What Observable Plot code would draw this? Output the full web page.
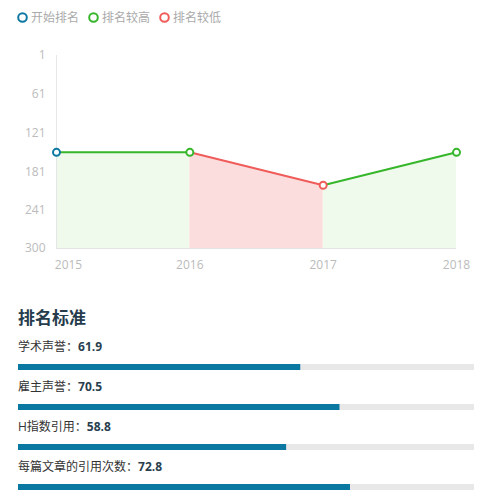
<!DOCTYPE html>
<html>
<head>
<meta charset="utf-8">
<script src="https://cdn.jsdelivr.net/npm/d3@7"></script>
<script src="https://cdn.jsdelivr.net/npm/@observablehq/plot@0.6"></script>
<style>
  body { margin: 0; background: #fff; font-family: "Open Sans", "Noto Sans CJK SC", sans-serif; width: 482px; overflow: hidden; }
  #legend { height: 34px; display: flex; align-items: center; padding-left: 17px; font-size: 12px; color: #aaa; }
  .lg { display: flex; align-items: center; margin-right: 9px; }
  .lg svg { margin-right: 3px; }
  #chart svg { display: block; }
  #crit { padding: 0 8px 0 18px; margin-top: 22px; }
  #crit h2 { margin: 0 0 1px 0; font-size: 17px; line-height: 24px; font-weight: bold; color: #263c4c; }
  .row-label { font-size: 12px; line-height: 20px; height: 20px; color: #333; margin-top: 7px; }
  .row-label b { color: #2a3f50; }
  .bar { margin-top: 7px; height: 6px; }
  .bar svg { display: block; }
</style>
</head>
<body>
<div id="legend"></div>
<div id="chart"></div>
<div id="crit"><h2>排名标准</h2></div>
<script>
const years = [2015, 2016, 2017, 2018];
const ranks = [151, 151, 202, 151];
const yTicks = [1, 61, 121, 181, 241, 300];
const legendLabels = ["开始排名", "排名较高", "排名较低"];
const legendColors = ["#0e78a2", "#36b62a", "#ef5c5a"];
const criteria = ["学术声誉", "雇主声誉", "H指数引用", "每篇文章的引用次数"];
const scores = [61.9, 70.5, 58.8, 72.8];

const yMin = yTicks[0], yMax = yTicks[yTicks.length - 1];
const [cStart, cUp, cDown] = legendColors;
const areaUp = "#eff9ec", areaDown = "#fbdddd";

// legend
const lg = document.getElementById("legend");
legendLabels.forEach((t, i) => {
  const d = document.createElement("div");
  d.className = "lg";
  d.innerHTML = `<svg width="11" height="11"><circle cx="5.5" cy="5.5" r="4.3" fill="white" stroke="${legendColors[i]}" stroke-width="2"/></svg><span>${t}</span>`;
  lg.appendChild(d);
});

// segments
const segRows = [];
for (let i = 1; i < years.length; i++) {
  const status = ranks[i] <= ranks[i - 1] ? "up" : "down";
  segRows.push({seg: i, year: years[i - 1], rank: ranks[i - 1], status});
  segRows.push({seg: i, year: years[i], rank: ranks[i], status});
}
const pts = years.map((y, i) => ({
  year: y, rank: ranks[i],
  color: i === 0 ? cStart : (ranks[i] <= ranks[i - 1] ? cUp : cDown)
}));
const up = segRows.filter(d => d.status === "up");
const down = segRows.filter(d => d.status === "down");

const chart = Plot.plot({
  width: 482, height: 250,
  marginTop: 21, marginBottom: 36, marginLeft: 56, marginRight: 26,
  style: {fontSize: "12px", fontFamily: "'Open Sans', 'Noto Sans CJK SC', sans-serif", background: "white"},
  x: {type: "linear", domain: [years[0], years[years.length - 1]], axis: null},
  y: {domain: [yMin, yMax], reverse: true, axis: null},
  color: {type: "identity"},
  marks: [
    Plot.areaY(up, {x: "year", y1: yMax, y2: "rank", z: "seg", fill: areaUp}),
    Plot.areaY(down, {x: "year", y1: yMax, y2: "rank", z: "seg", fill: areaDown}),
    Plot.ruleX([years[0]], {stroke: "#e6e6e6"}),
    Plot.ruleY([yMax], {stroke: "#e3e3e3"}),
    Plot.axisY({ticks: yTicks, tickSize: 0, tickPadding: 11, color: "#bbb", label: null, tickFormat: d => String(d)}),
    Plot.axisX({ticks: [years[0]], tickSize: 0, tickPadding: 12, dx: 12, color: "#bbb", label: null, tickFormat: d => String(d)}),
    Plot.axisX({ticks: years.slice(1), tickSize: 0, tickPadding: 12, color: "#bbb", label: null, tickFormat: d => String(d)}),
    Plot.line(up, {x: "year", y: "rank", z: "seg", stroke: cUp, strokeWidth: 2}),
    Plot.line(down, {x: "year", y: "rank", z: "seg", stroke: cDown, strokeWidth: 2}),
    Plot.dot(pts, {x: "year", y: "rank", r: 3.5, fill: "white", stroke: "color", strokeWidth: 2})
  ]
});
document.getElementById("chart").appendChild(chart);

// criteria bars
const crit = document.getElementById("crit");
criteria.forEach((name, i) => {
  const l = document.createElement("div");
  l.className = "row-label";
  l.innerHTML = `${name}：<b>${scores[i]}</b>`;
  crit.appendChild(l);
  const b = document.createElement("div");
  b.className = "bar";
  b.appendChild(Plot.plot({
    width: 456, height: 6, margin: 0,
    x: {domain: [0, 100], axis: null},
    marks: [
      Plot.barX([100], {x1: 0, x2: d => d, fill: "#e8e8e8"}),
      Plot.barX([scores[i]], {x1: 0, x2: d => d, fill: "#0a78a0"})
    ]
  }));
  crit.appendChild(b);
});
</script>
</body>
</html>
